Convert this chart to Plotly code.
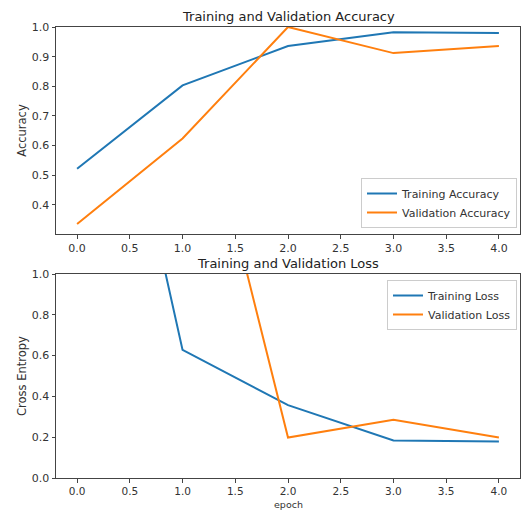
import plotly.graph_objects as go

epochs = [0, 1, 2, 3, 4]
train_acc = [0.522, 0.803, 0.936, 0.982, 0.980]
val_acc = [0.336, 0.624, 1.000, 0.912, 0.936]
train_loss = [2.95, 0.628, 0.357, 0.184, 0.179]
val_loss = [3.20, 2.27, 0.198, 0.285, 0.198]

acc_ticks = [0.4, 0.5, 0.6, 0.7, 0.8, 0.9, 1.0]
loss_ticks = [0.0, 0.2, 0.4, 0.6, 0.8, 1.0]
x_ticks = [0.0, 0.5, 1.0, 1.5, 2.0, 2.5, 3.0, 3.5, 4.0]

BLUE = "#1f77b4"
ORANGE = "#ff7f0e"
W, H = 523, 511
FONT = "DejaVu Sans"

fig = go.Figure()
fig.add_trace(go.Scatter(x=epochs, y=train_acc, mode="lines", name="Training Accuracy",
                         line=dict(color=BLUE, width=2), xaxis="x", yaxis="y", legend="legend"))
fig.add_trace(go.Scatter(x=epochs, y=val_acc, mode="lines", name="Validation Accuracy",
                         line=dict(color=ORANGE, width=2), xaxis="x", yaxis="y", legend="legend"))
fig.add_trace(go.Scatter(x=epochs, y=train_loss, mode="lines", name="Training Loss",
                         line=dict(color=BLUE, width=2), xaxis="x2", yaxis="y2", legend="legend2"))
fig.add_trace(go.Scatter(x=epochs, y=val_loss, mode="lines", name="Validation Loss",
                         line=dict(color=ORANGE, width=2), xaxis="x2", yaxis="y2", legend="legend2"))

xdom = [56 / W, 520 / W]
top_dom = [1 - 234 / H, 1 - 27 / H]
bot_dom = [1 - 478 / H, 1 - 274 / H]

axis_common = dict(showline=True, mirror=True, linecolor="#444", linewidth=1,
                   ticks="outside", ticklen=3.5, tickcolor="#444", showgrid=False,
                   zeroline=False, automargin=False)
tf = dict(size=11, color="#333", family=FONT)
tf_small = dict(size=10.5, color="#333", family=FONT)

fig.update_layout(
    template="none",
    width=W, height=H,
    margin=dict(l=0, r=0, t=0, b=0, pad=0),
    paper_bgcolor="white", plot_bgcolor="white",
    font=dict(family=FONT, color="#333"),
    xaxis=dict(domain=xdom, anchor="y", range=[-0.2, 4.2], tickvals=x_ticks,
               tickformat=".1f", tickfont=tf, **axis_common),
    yaxis=dict(domain=top_dom, anchor="x", range=[0.302, 1.0], tickvals=acc_ticks,
               tickformat=".1f", tickfont=tf,
               title=dict(text="Accuracy", font=dict(size=11.5, family=FONT), standoff=2),
               **axis_common),
    xaxis2=dict(domain=xdom, anchor="y2", range=[-0.2, 4.2], tickvals=x_ticks,
                tickformat=".1f", tickfont=tf_small, **axis_common),
    yaxis2=dict(domain=bot_dom, anchor="x2", range=[0, 1.0], tickvals=loss_ticks,
                tickformat=".1f", tickfont=tf,
                title=dict(text="Cross Entropy", font=dict(size=11.5, family=FONT), standoff=2),
                **axis_common),
    legend=dict(x=517 / W, y=1 - 228 / H, xanchor="right", yanchor="bottom",
                bgcolor="rgba(255,255,255,0.8)", bordercolor="#ccc", borderwidth=1,
                itemwidth=30, tracegroupgap=0,
                font=dict(size=11, family=FONT, color="#333")),
    legend2=dict(x=517 / W, y=1 - 280 / H, xanchor="right", yanchor="top",
                 bgcolor="rgba(255,255,255,0.8)", bordercolor="#ccc", borderwidth=1,
                 itemwidth=30, tracegroupgap=0,
                 font=dict(size=11, family=FONT, color="#333")),
    showlegend=True,
    annotations=[
        dict(text="Training and Validation Accuracy", x=0.5 * (xdom[0] + xdom[1]), y=1 - 16 / H,
             xref="paper", yref="paper", xanchor="center", yanchor="middle", showarrow=False,
             font=dict(size=13, family=FONT, color="#222")),
        dict(text="Training and Validation Loss", x=0.5 * (xdom[0] + xdom[1]), y=1 - 263 / H,
             xref="paper", yref="paper", xanchor="center", yanchor="middle", showarrow=False,
             font=dict(size=13, family=FONT, color="#222")),
        dict(text="epoch", x=0.5 * (xdom[0] + xdom[1]), y=0,
             xref="paper", yref="paper", xanchor="center", yanchor="bottom", showarrow=False,
             borderpad=0, font=dict(size=9.5, family=FONT, color="#333")),
    ],
)

fig.write_html("out.html", config={"displayModeBar": False},
               post_script="document.body.style.margin='0';document.body.style.overflow='hidden';")
